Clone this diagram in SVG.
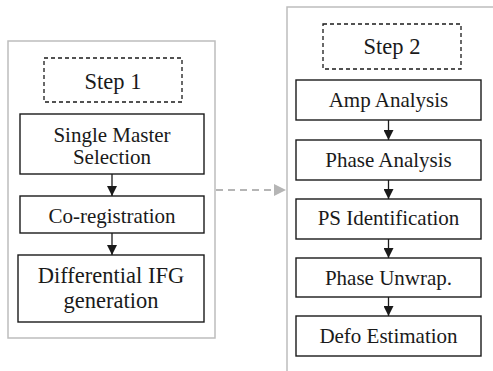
<svg xmlns="http://www.w3.org/2000/svg" width="493" height="371" viewBox="0 0 493 371" font-family="'Liberation Serif', serif">
  <defs>
    <style>
      .panel { fill: #ffffff; stroke: #bdbdbd; stroke-width: 1.5; }
      .step { fill: #ffffff; stroke: #1a1a1a; stroke-width: 1.3; stroke-dasharray: 4 3; }
      .box { fill: #ffffff; stroke: #1a1a1a; stroke-width: 1.4; }
      .lbl { font-family: "Liberation Serif", "Times New Roman", serif; font-size: 21px; fill: #1a1a1a; text-anchor: middle; }
      .big { font-size: 22.5px; }
      .flow { stroke: #1a1a1a; stroke-width: 1.3; fill: none; marker-end: url(#arrowBlack); }
      .link { stroke: #b5b5b5; stroke-width: 2; stroke-dasharray: 7 5; fill: none; marker-end: url(#arrowGray); }
    </style>
    <marker id="arrowBlack" viewBox="0 0 10 10" refX="10" refY="5" markerUnits="userSpaceOnUse" markerWidth="11" markerHeight="10" orient="auto">
      <path d="M0,0 L10,5 L0,10 Z" fill="#1a1a1a"/>
    </marker>
    <marker id="arrowGray" viewBox="0 0 10 10" refX="10" refY="5" markerUnits="userSpaceOnUse" markerWidth="12" markerHeight="12" orient="auto">
      <path d="M0,0 L10,5 L0,10 Z" fill="#b5b5b5"/>
    </marker>
  </defs>

  <!-- Panels -->
  <g id="panel-step1">
    <rect class="panel" x="8" y="41" width="207" height="297"/>
  </g>
  <g id="panel-step2">
    <path class="panel" d="M495,7 L287,7 L287,373"/>
  </g>

  <!-- Step 1 column -->
  <g id="step1-title">
    <rect class="step" x="44" y="58" width="138" height="44"/>
    <text class="lbl big" x="113" y="89">Step 1</text>
  </g>
  <g id="single-master">
    <rect class="box" x="20" y="114" width="184" height="60"/>
    <text class="lbl" x="112" y="141.5">Single Master</text>
    <text class="lbl" x="112" y="164">Selection</text>
  </g>
  <g id="co-registration">
    <rect class="box" x="20" y="196" width="184" height="37"/>
    <text class="lbl" x="112" y="222.5">Co-registration</text>
  </g>
  <g id="differential-ifg">
    <rect class="box" x="18" y="255" width="186" height="67"/>
    <text class="lbl big" x="111" y="283">Differential IFG</text>
    <text class="lbl big" x="111" y="308">generation</text>
  </g>

  <!-- Step 2 column -->
  <g id="step2-title">
    <rect class="step" x="323" y="24" width="138" height="45"/>
    <text class="lbl big" x="392" y="54">Step 2</text>
  </g>
  <g id="amp-analysis">
    <rect class="box" x="296" y="80" width="185" height="40"/>
    <text class="lbl" x="388.5" y="106.5">Amp Analysis</text>
  </g>
  <g id="phase-analysis">
    <rect class="box" x="296" y="140" width="185" height="40"/>
    <text class="lbl" x="388.5" y="166.5">Phase Analysis</text>
  </g>
  <g id="ps-identification">
    <rect class="box" x="296" y="199" width="185" height="40"/>
    <text class="lbl" x="388.5" y="225">PS Identification</text>
  </g>
  <g id="phase-unwrap">
    <rect class="box" x="296" y="258" width="185" height="39"/>
    <text class="lbl" x="388.5" y="284.5">Phase Unwrap.</text>
  </g>
  <g id="defo-estimation">
    <rect class="box" x="296" y="316" width="185" height="40"/>
    <text class="lbl" x="388.5" y="342.5">Defo Estimation</text>
  </g>

  <!-- Connectors -->
  <g id="connectors">
    <line class="flow" x1="112" y1="174" x2="112" y2="196"/>
    <line class="flow" x1="112" y1="233" x2="112" y2="255"/>
    <line class="flow" x1="388.5" y1="120" x2="388.5" y2="140"/>
    <line class="flow" x1="388.5" y1="180" x2="388.5" y2="199"/>
    <line class="flow" x1="388.5" y1="239" x2="388.5" y2="258"/>
    <line class="flow" x1="388.5" y1="297" x2="388.5" y2="316"/>
    <line class="link" x1="216" y1="190" x2="286" y2="190"/>
  </g>
</svg>
